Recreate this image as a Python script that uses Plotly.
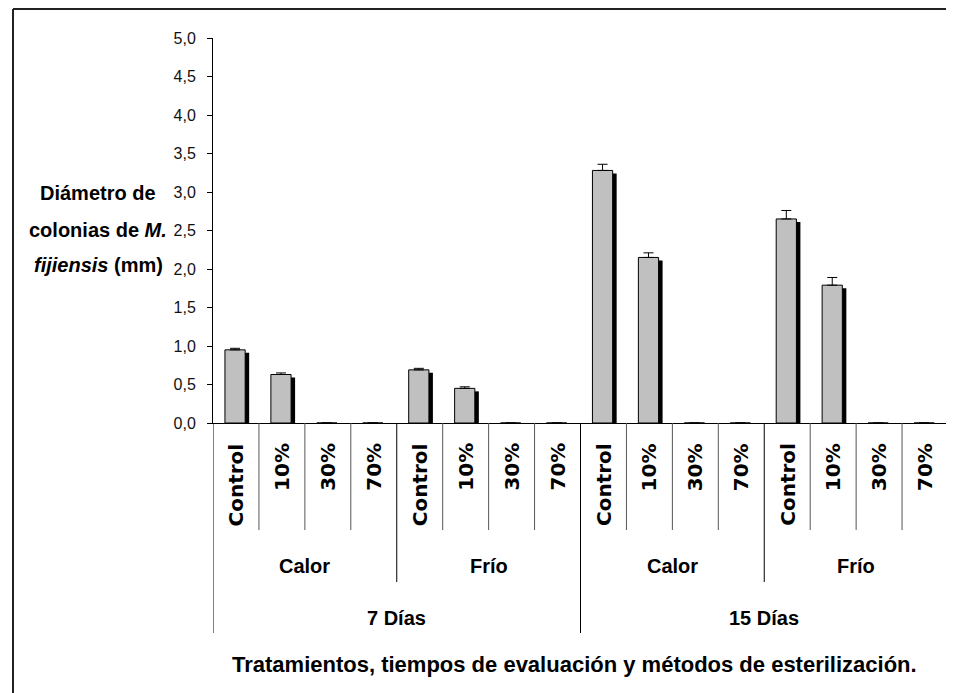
import plotly.graph_objects as go

# ---- data ----
dias = ["7 Días", "15 Días"]
metodos = ["Calor", "Frío"]
tratamientos = ["Control", "10%", "30%", "70%"]
diametro = [0.95, 0.63, 0.0, 0.0,   0.69, 0.45, 0.0, 0.0,
            3.28, 2.15, 0.0, 0.0,   2.65, 1.79, 0.0, 0.0]
error_sup = [0.02, 0.02, 0.0, 0.0,  0.02, 0.02, 0.0, 0.0,
             0.08, 0.06, 0.0, 0.0,  0.11, 0.10, 0.0, 0.0]
y_ticks = [0.0, 0.5, 1.0, 1.5, 2.0, 2.5, 3.0, 3.5, 4.0, 4.5, 5.0]

# ---- geometry (screen pixels; page body has an 8px margin) ----
OFF = 8
W, H = 954 - OFF, 693 - OFF
L, T = 213 - OFF, 38 - OFF
R = W - (948 - OFF)
B = H - (423 - OFF)
pw, ph = W - L - R, H - T - B
n = len(tratamientos) * len(metodos) * len(dias)
catw = pw / n

def px_x(px):
    return (px - OFF - L) / pw

def px_y(py):
    return (H - B - (py - OFF)) / ph

xs = [i + 0.5 for i in range(n)]
shadow_dy = 3 / (ph / 5.0)
shadow_vals = [max(v - shadow_dy, 0) if v > 0 else None for v in diametro]

BAR_W = 0.44
BAR_OFF = -0.24
SH_OFF = BAR_OFF + 4 / catw

fig = go.Figure()
fig.add_trace(go.Bar(x=xs, y=shadow_vals, width=BAR_W, offset=SH_OFF,
                     marker=dict(color="black", line=dict(width=0)),
                     hoverinfo="skip", showlegend=False))
fig.add_trace(go.Bar(x=xs, y=diametro, width=BAR_W, offset=BAR_OFF,
                     marker=dict(color="#C0C0C0", line=dict(color="black", width=1)),
                     error_y=dict(type="data", array=error_sup,
                                  arrayminus=[0] * n, symmetric=False,
                                  color="black", thickness=1, width=5),
                     showlegend=False))

fig.update_layout(
    barmode="overlay",
    width=W, height=H,
    margin=dict(l=L, r=R, t=T, b=B, pad=0),
    paper_bgcolor="white", plot_bgcolor="white",
    separators=",.",
    font=dict(family="Arial, Liberation Sans, sans-serif", color="black"),
    xaxis=dict(range=[0, n], showgrid=False, zeroline=False, showticklabels=False,
               showline=True, linecolor="black", linewidth=1, ticks="", fixedrange=True),
    yaxis=dict(range=[0, 5], tickvals=y_ticks, tickformat=".1f", showgrid=False,
               zeroline=False, showline=True, linecolor="black", linewidth=1,
               ticks="outside", ticklen=5, tickcolor="black", tickwidth=1,
               ticklabelstandoff=8,
               tickfont=dict(size=16, color="#111", family="Arial, Liberation Sans")),
)

shapes = []
# separators below the axis
for b in range(0, n + 1):
    if b % 8 == 0:
        y1, col = px_y(633), "black"
    elif b % 4 == 0:
        y1, col = px_y(582), "black"
    else:
        y1, col = px_y(530), "#555"
    shapes.append(dict(type="line", xref="x", yref="paper", x0=b, x1=b,
                       y0=0, y1=y1, line=dict(color=col, width=1)))
# outer frame (top and left)
shapes.append(dict(type="line", xref="paper", yref="paper", x0=px_x(13), x1=px_x(960),
                   y0=px_y(9), y1=px_y(9), line=dict(color="#222", width=2)))
shapes.append(dict(type="line", xref="paper", yref="paper", x0=px_x(13), x1=px_x(13),
                   y0=px_y(9), y1=px_y(700), line=dict(color="#222", width=2)))
fig.update_layout(shapes=shapes)

ann = []
i = 0
for d_i, d in enumerate(dias):
    for m_i, m in enumerate(metodos):
        for t in tratamientos:
            ann.append(dict(x=i + 0.5, y=px_y(441), xref="x", yref="paper", text=t,
                            textangle=-90, showarrow=False, xanchor="center", yanchor="top",
                            font=dict(size=20, family="DejaVu Sans", color="black", weight="bold")))
            i += 1
        c = (d_i * 2 + m_i) * 4 + 2
        ann.append(dict(x=c, y=px_y(566), xref="x", yref="paper", text=f"<b>{m}</b>",
                        showarrow=False, xanchor="center", yanchor="middle",
                        font=dict(size=20)))
    ann.append(dict(x=d_i * 8 + 4, y=px_y(618), xref="x", yref="paper", text=f"<b>{d}</b>",
                    showarrow=False, xanchor="center", yanchor="middle", font=dict(size=20)))

ann.append(dict(x=px_x(574), y=px_y(664), xref="paper", yref="paper",
                text="<b>Tratamientos, tiempos de evaluación y métodos de esterilización.</b>",
                showarrow=False, xanchor="center", yanchor="middle", font=dict(size=22)))

ytitle = ["<b>Diámetro de</b>", "<b>colonias de <i>M.</i></b>", "<b><i>fijiensis</i> (mm)</b>"]
for txt, yy in zip(ytitle, [193, 230, 265]):
    ann.append(dict(x=px_x(98), y=px_y(yy), xref="paper", yref="paper", text=txt,
                    showarrow=False, xanchor="center", yanchor="middle", font=dict(size=20)))

fig.update_layout(annotations=ann)
fig.write_html("out.html")
